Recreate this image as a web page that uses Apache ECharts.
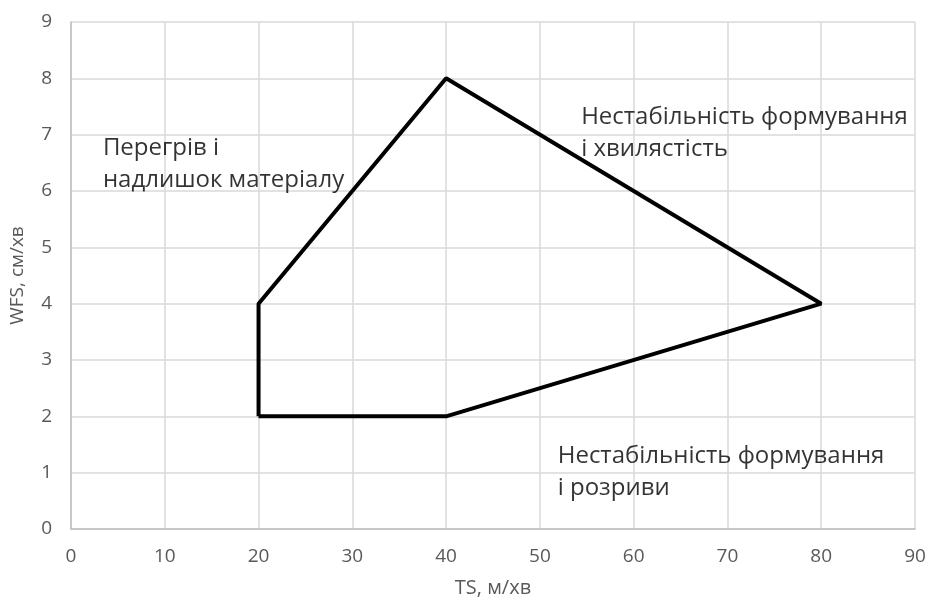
<!DOCTYPE html>
<html><head><meta charset="utf-8">
<script src="https://cdn.jsdelivr.net/npm/echarts@6/dist/echarts.min.js"></script>
<style>html,body{margin:0;padding:0;background:#fff}#c{width:928px;height:601px}</style>
</head><body><div id="c"></div>
<script>
const xTicks = [0,10,20,30,40,50,60,70,80,90];
const yTicks = [0,1,2,3,4,5,6,7,8,9];
const regionTS = [20, 20, 40, 80, 40, 20];
const regionWFS = [2, 4, 8, 4, 2, 2];
const zoneLabels = ['Перегрів і\nнадлишок матеріалу', 'Нестабільність формування\nі хвилястість', 'Нестабільність формування\nі розриви'];
const zoneTS = [3.4, 54.4, 51.9];
const zoneWFS = [6.47, 7.03, 1.01];

const chart = echarts.init(document.getElementById('c'), null, {renderer:'canvas'});
const font = 'Open Sans';
chart.setOption({
  animation:false,
  backgroundColor:'#fff',
  grid:{left:71, right:13, top:22, bottom:72, containLabel:false, outerBoundsMode:'none'},
  xAxis:{type:'value', min:0, max:90, interval:10,
    name:'TS, м/хв', nameLocation:'middle', nameGap:49,
    nameTextStyle:{color:'#595959', fontSize:20, fontFamily:font},
    axisLine:{lineStyle:{color:'#bfbfbf', width:1.5}}, axisTick:{show:false},
    axisLabel:{color:'#595959', fontSize:19, fontFamily:font, margin:18},
    splitLine:{lineStyle:{color:'#d9d9d9', width:1.5}}},
  yAxis:{type:'value', min:0, max:9, interval:1,
    name:'WFS, см/хв', nameLocation:'middle', nameGap:44,
    nameTextStyle:{color:'#595959', fontSize:19, fontFamily:font},
    axisLine:{show:true, lineStyle:{color:'#bfbfbf', width:1.5}}, axisTick:{show:false},
    axisLabel:{color:'#595959', fontSize:19, fontFamily:font, margin:19},
    splitLine:{lineStyle:{color:'#d9d9d9', width:1.5}}},
  series:[
    {type:'line', data:regionTS.map((x,i)=>[x, regionWFS[i]]), showSymbol:false, symbol:'none',
     lineStyle:{color:'#000', width:4}, z:3},
    {type:'scatter', symbolSize:0, data:zoneLabels.map((t,i)=>({value:[zoneTS[i], zoneWFS[i]], name:t})),
     label:{show:true, position:'right', distance:0, formatter:p=>p.name, color:'#000', fontSize:24,
       fontFamily:font, lineHeight:32, align:'left', verticalAlign:'middle'}, z:4}
  ]
});
</script></body></html>
